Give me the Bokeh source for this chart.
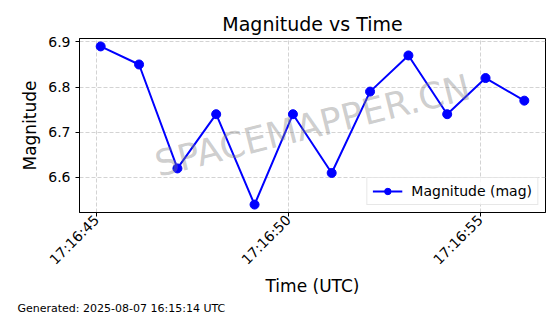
import datetime as dt
from math import pi
from bokeh.plotting import figure
from bokeh.models import (Range1d, FixedTicker, DatetimeTickFormatter, Label,
                          Title, Legend, LegendItem)
from bokeh.embed import file_html
from bokeh.resources import INLINE

DATE = "2025-08-07"
times = ["17:16:45.11", "17:16:46.11", "17:16:47.11", "17:16:48.12", "17:16:49.12",
         "17:16:50.12", "17:16:51.13", "17:16:52.13", "17:16:53.13", "17:16:54.14",
         "17:16:55.14", "17:16:56.15"]
magnitudes = [6.89, 6.85, 6.62, 6.74, 6.54, 6.74, 6.61, 6.79, 6.87, 6.74, 6.82, 6.77]
x_tick_labels = ["17:16:45", "17:16:50", "17:16:55"]
y_ticks = [6.6, 6.7, 6.8, 6.9]
title_text = "Magnitude vs Time"
x_label = "Time (UTC)"
y_label = "Magnitude"
legend_label = "Magnitude (mag)"
footer_text = "Generated: 2025-08-07 16:15:14 UTC"
watermark_text = "SPACEMAPPER.CN"

EPOCH = dt.datetime(1970, 1, 1)


def parse(t):
    fmt = "%Y-%m-%d %H:%M:%S.%f" if "." in t else "%Y-%m-%d %H:%M:%S"
    return dt.datetime.strptime(DATE + " " + t, fmt)


def to_ms(d):
    return (d - EPOCH).total_seconds() * 1000.0


xs = [parse(t) for t in times]
tick_ms = [to_ms(parse(t)) for t in x_tick_labels]

# matplotlib-like 5% margins
x0, x1 = to_ms(min(xs)), to_ms(max(xs))
xm = (x1 - x0) * 0.05
y0, y1 = min(magnitudes), max(magnitudes)
ym = (y1 - y0) * 0.05

FONT = "DejaVu Sans"

p = figure(width=560, height=314, x_axis_type="datetime",
           output_backend="svg", toolbar_location=None,
           x_range=Range1d(x0 - xm, x1 + xm), y_range=Range1d(y0 - ym, y1 + ym),
           min_border_left=79, min_border_right=15, min_border_top=38,
           min_border_bottom=102)

p.title.text = title_text
p.title.align = "center"
p.title.text_font = FONT
p.title.text_font_size = "19px"
p.title.text_font_style = "normal"
p.title.text_color = "black"
p.title.standoff = 8

p.outline_line_color = "black"
p.outline_line_width = 1
p.background_fill_color = "white"
p.border_fill_color = "white"

# axes
p.xaxis.ticker = FixedTicker(ticks=tick_ms)
p.xaxis.formatter = DatetimeTickFormatter(
    microseconds="%H:%M:%S", milliseconds="%H:%M:%S", seconds="%H:%M:%S",
    minsec="%H:%M:%S", minutes="%H:%M:%S", hourmin="%H:%M:%S", hours="%H:%M:%S",
    days="%H:%M:%S", months="%H:%M:%S", years="%H:%M:%S", context=None)
p.xaxis.major_label_orientation = pi / 4
p.yaxis.ticker = FixedTicker(ticks=y_ticks)

for ax in (p.xaxis, p.yaxis):
    ax.axis_line_color = "black"
    ax.major_tick_line_color = "black"
    ax.major_tick_out = 4
    ax.major_tick_in = 0
    ax.minor_tick_line_color = None
    ax.major_label_text_font = FONT
    ax.major_label_text_font_size = "14px"
    ax.major_label_text_color = "black"
    ax.axis_label_text_font = FONT
    ax.axis_label_text_font_size = "17px"
    ax.axis_label_text_font_style = "normal"
    ax.axis_label_text_color = "black"

p.xaxis.axis_label = x_label
p.xaxis.major_label_standoff = 1
p.xaxis.axis_label_standoff = 0
p.yaxis.axis_label = y_label

for g in (p.xgrid, p.ygrid):
    g.grid_line_color = "#c8c8c8"
    g.grid_line_dash = "4 2"
    g.grid_line_width = 0.8

# watermark
cx = dt.datetime.utcfromtimestamp(((x0 - xm) + (x1 + xm)) / 2000.0)
cy = ((y0 - ym) + (y1 + ym)) / 2
wm = Label(x=cx, y=cy, text=watermark_text, text_align="center",
           text_baseline="middle", angle=14 * pi / 180, text_font=FONT,
           text_font_size="36px", text_color="gray", text_alpha=0.4)
p.add_layout(wm)

line = p.line(xs, magnitudes, line_color="blue", line_width=2)
pts = p.scatter(xs, magnitudes, size=9, fill_color="blue", line_color="blue")

legend = Legend(items=[LegendItem(label=legend_label, renderers=[line, pts])],
                location="bottom_right")
legend.label_text_font = FONT
legend.label_text_font_size = "14px"
legend.label_text_color = "black"
legend.border_line_color = "#d0d0d0"
legend.background_fill_alpha = 0.8
legend.margin = 7
legend.padding = 5
legend.spacing = 0
legend.glyph_width = 30
legend.glyph_height = 16
legend.label_height = 16
legend.label_standoff = 9
p.add_layout(legend)

footer = Title(text=footer_text, align="left", text_font=FONT,
               text_font_size="11px", text_font_style="normal",
               text_color="black", offset=-62, standoff=0)
p.add_layout(footer, "below")

open("out.html", "w").write(file_html(p, INLINE))
